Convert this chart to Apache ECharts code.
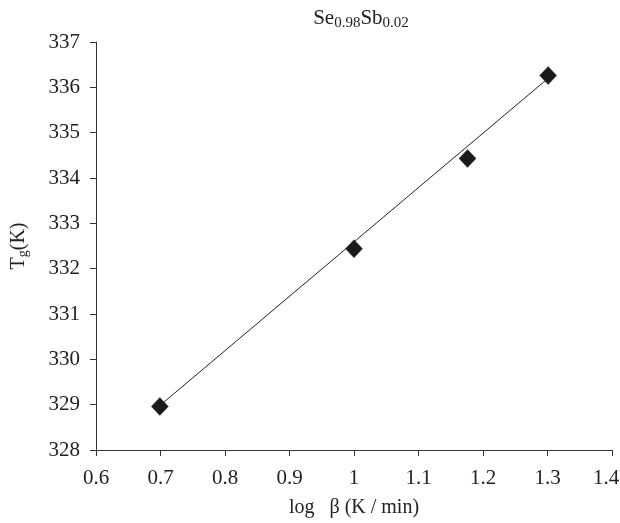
<!DOCTYPE html>
<html>
<head>
<meta charset="utf-8">
<script src="https://cdn.jsdelivr.net/npm/echarts@6/dist/echarts.min.js"></script>
<style>
  html, body { margin: 0; padding: 0; background: #fff; }
  #chart { width: 620px; height: 523px; }
</style>
</head>
<body>
<div id="chart"></div>
<script>
// log of heating rate (5, 10, 15, 20 K/min)
const logBeta = [0.699, 1.0, 1.176, 1.301]
// glass transition temperature, K
const tg = [328.96, 332.44, 334.43, 336.26]
// fitted straight line, end points
const fitX = [0.699, 1.301]
const fitY = [328.98, 336.2]

const chart = echarts.init(document.getElementById('chart'))
const serif = 'Liberation Serif'

const option = {
  backgroundColor: '#fff',
  animation: false,
  title: {
    text: '{a|Se}{s|0.98}{a|Sb}{s|0.02}',
    left: 356,
    textAlign: 'center',
    top: 1,
    textStyle: {
      rich: {
        a: { fontFamily: serif, fontSize: 21, fontWeight: 'normal', color: '#222' },
        s: { fontFamily: serif, fontSize: 15, fontWeight: 'normal', color: '#222', padding: [10, 0, 0, 0] }
      }
    }
  },
  grid: { left: 96, right: 8, top: 42, bottom: 73, containLabel: false, outerBoundsMode: 'none' },
  xAxis: {
    type: 'value',
    min: 0.6,
    max: 1.4,
    interval: 0.1,
    name: 'log   β (K / min)',
    nameLocation: 'middle',
    nameGap: 48,
    nameTextStyle: { fontFamily: serif, fontSize: 20, color: '#222' },
    axisLine: { lineStyle: { color: '#333', width: 1 } },
    axisTick: { show: true, length: 6, inside: false, lineStyle: { color: '#333' } },
    axisLabel: {
      fontFamily: serif, fontSize: 21, color: '#222', margin: 18,
      // last label is nudged left so it stays inside the page
      formatter: v => {
        const s = String(parseFloat(v.toFixed(1)))
        return v >= 1.4 ? '{e|' + s + '}' : s
      },
      rich: {
        e: { fontFamily: serif, fontSize: 21, color: '#222', padding: [0, 12, 0, 0] }
      }
    },
    splitLine: { show: false }
  },
  yAxis: {
    type: 'value',
    min: 328,
    max: 337,
    interval: 1,
    name: '{a|T}{s|g}{a|(K)}',
    nameLocation: 'middle',
    nameRotate: 90,
    nameGap: 66,
    nameTextStyle: {
      rich: {
        a: { fontFamily: serif, fontSize: 20, color: '#222' },
        s: { fontFamily: serif, fontSize: 14, color: '#222', padding: [9, 0, 0, 0] }
      }
    },
    axisLine: { show: true, lineStyle: { color: '#333', width: 1 } },
    axisTick: { show: true, length: 6, lineStyle: { color: '#333' } },
    axisLabel: { fontFamily: serif, fontSize: 21, color: '#222', margin: 16 },
    splitLine: { show: false }
  },
  series: [
    {
      type: 'line',
      data: fitX.map((x, i) => [x, fitY[i]]),
      showSymbol: false,
      symbol: 'none',
      lineStyle: { color: '#222', width: 1 },
      z: 2
    },
    {
      type: 'scatter',
      data: logBeta.map((x, i) => [x, tg[i]]),
      symbol: 'diamond',
      symbolSize: [17, 18],
      itemStyle: { color: '#1a1a1a', opacity: 1, borderColor: '#333', borderWidth: 0.5 },
      z: 3
    }
  ]
}
chart.setOption(option)
</script>
</body>
</html>
